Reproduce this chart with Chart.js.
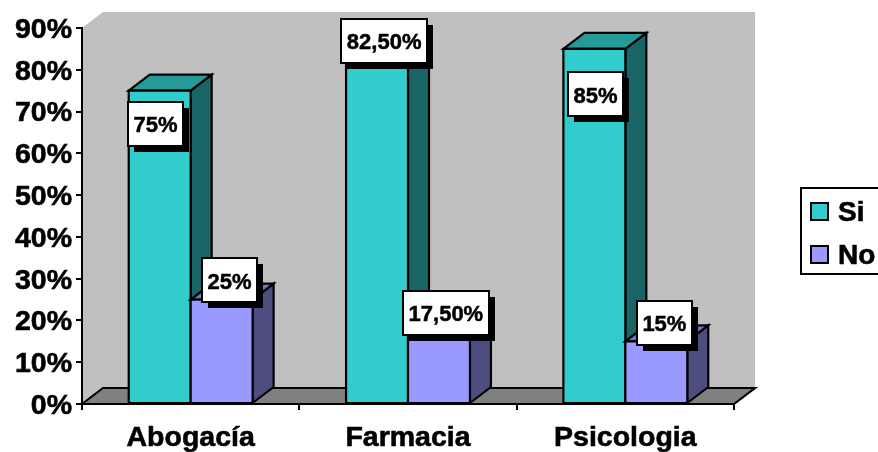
<!DOCTYPE html>
<html lang="es">
<head>
<meta charset="utf-8">
<title>Abogacía, Farmacia, Psicologia</title>
<script src="https://cdn.jsdelivr.net/npm/chart.js@4/dist/chart.umd.min.js"></script>
<style>
  html, body { margin: 0; padding: 0; background: #fff; }
  canvas { display: block; }
</style>
</head>
<body>
<canvas id="chart" width="878" height="452"></canvas>
<script>
// Chart data
const categories = ['Abogacía', 'Farmacia', 'Psicologia'];
const siValues = [75, 82.5, 85];
const noValues = [25, 17.5, 15];
const siLabels = ['75%', '82,50%', '85%'];
const noLabels = ['25%', '17,50%', '15%'];
const yTicks = [0, 10, 20, 30, 40, 50, 60, 70, 80, 90];

// Extrusion of the fake 3D box, in pixels
const DEPTH_X = 21;
const DEPTH_Y = 16;
const FONT = '"Liberation Sans", Arial, sans-serif';

// Hand placement of each value label, relative to the top centre of its bar
const labelNudge = [
  [[-4.1, 33.3], [7.1, -18.8], [1.2, 45.6]],
  [[7.8, -19.1], [6.9, -17.9], [8.1, -18.3]]
];
const labelTexts = [siLabels, noLabels];

const faceColors = [
  { top: '#269999', side: '#1A6666' },
  { top: '#7373BF', side: '#4D4D80' }
];

function polygon(ctx, pts, fill, stroke) {
  ctx.beginPath();
  pts.forEach((p, i) => (i ? ctx.lineTo(p[0], p[1]) : ctx.moveTo(p[0], p[1])));
  ctx.closePath();
  if (fill) { ctx.fillStyle = fill; ctx.fill(); }
  if (stroke) { ctx.strokeStyle = '#000'; ctx.lineWidth = 2.2; ctx.lineJoin = 'miter'; ctx.stroke(); }
}

function barEdges(bar) {
  return {
    l: bar.x - bar.width / 2,
    r: bar.x + bar.width / 2,
    t: bar.y,
    b: bar.base
  };
}

function drawDepthFaces(chart, index) {
  const { ctx } = chart;
  const colors = faceColors[index];
  ctx.save();
  chart.getDatasetMeta(index).data.forEach(bar => {
    const { l, r, t, b } = barEdges(bar);
    polygon(ctx, [[r, b], [r + DEPTH_X, b - DEPTH_Y], [r + DEPTH_X, t - DEPTH_Y], [r, t]], colors.side, true);
    polygon(ctx, [[l, t], [l + DEPTH_X, t - DEPTH_Y], [r + DEPTH_X, t - DEPTH_Y], [r, t]], colors.top, true);
  });
  ctx.restore();
}

function drawFrontOutlines(chart, index) {
  const { ctx } = chart;
  ctx.save();
  chart.getDatasetMeta(index).data.forEach(bar => {
    const { l, r, t, b } = barEdges(bar);
    polygon(ctx, [[l, t], [r, t], [r, b], [l, b]], null, true);
  });
  ctx.restore();
}

const box3d = {
  id: 'box3d',
  beforeDraw(chart) {
    const { ctx, chartArea: a } = chart;
    // Nudge the axis labels down so they sit level with their tick marks
    if (chart.scales.y._labelItems !== box3d.shifted) {
      const items = chart.scales.y.getLabelItems();
      items.forEach(item => { item.options.translation[1] += 2; });
      box3d.shifted = items;
    }
    // Back wall and floor of the plot
    ctx.save();
    polygon(ctx, [
      [a.left, a.top], [a.left + DEPTH_X, a.top - DEPTH_Y],
      [a.right + DEPTH_X, a.top - DEPTH_Y], [a.right + DEPTH_X, a.bottom - DEPTH_Y],
      [a.left + DEPTH_X, a.bottom - DEPTH_Y], [a.left, a.bottom]
    ], '#C0C0C0', false);
    polygon(ctx, [
      [a.left, a.bottom], [a.left + DEPTH_X, a.bottom - DEPTH_Y],
      [a.right + DEPTH_X, a.bottom - DEPTH_Y], [a.right, a.bottom]
    ], '#808080', true);
    ctx.restore();
  },
  // Paint left to right so each series' front face covers its neighbour's side
  beforeDatasetsDraw(chart) {
    chart.data.datasets.forEach((ds, i) => {
      drawDepthFaces(chart, i);
      chart.getDatasetMeta(i).controller.draw();
      drawFrontOutlines(chart, i);
    });
    return false;
  },
  afterDraw(chart) {
    const { ctx } = chart;
    ctx.save();
    // Value labels: white box with a hard black drop shadow
    ctx.font = 'bold 22px ' + FONT;
    ctx.textAlign = 'center';
    ctx.textBaseline = 'middle';
    labelTexts.forEach((texts, ds) => {
      chart.getDatasetMeta(ds).data.forEach((bar, i) => {
        const cx = bar.x + labelNudge[ds][i][0];
        const cy = bar.y + labelNudge[ds][i][1];
        const w = Math.round(ctx.measureText(texts[i]).width) + 11;
        const h = 44;
        const x = Math.round(cx - w / 2);
        const y = Math.round(cy - h / 2);
        ctx.fillStyle = '#000';
        ctx.fillRect(x + 6, y + 6, w, h);
        ctx.fillStyle = '#fff';
        ctx.fillRect(x, y, w, h);
        ctx.strokeStyle = '#000';
        ctx.lineWidth = 2;
        ctx.strokeRect(x, y, w, h);
        ctx.fillStyle = '#000';
        ctx.lineWidth = 0.5;
        ctx.strokeText(texts[i], cx, cy + 2);
        ctx.fillText(texts[i], cx, cy + 2);
      });
    });
    // Legend box, running off the right edge of the page
    ctx.strokeStyle = '#000';
    ctx.lineWidth = 2;
    ctx.fillStyle = '#fff';
    ctx.fillRect(801, 188, 90, 86);
    ctx.strokeRect(801, 188, 90, 86);
    ctx.font = 'bold 28px ' + FONT;
    ctx.textAlign = 'left';
    chart.data.datasets.forEach((ds, i) => {
      const y = 203 + i * 43;
      ctx.lineWidth = 2;
      ctx.fillStyle = ds.backgroundColor;
      ctx.fillRect(811, y, 17, 17);
      ctx.strokeRect(811, y, 17, 17);
      ctx.fillStyle = '#000';
      ctx.lineWidth = 0.6;
      ctx.strokeText(ds.label, 838, y + 10);
      ctx.fillText(ds.label, 838, y + 10);
    });
    ctx.restore();
  }
};

new Chart(document.getElementById('chart'), {
  type: 'bar',
  data: {
    labels: categories,
    datasets: [
      { label: 'Si', data: siValues, backgroundColor: '#33CCCC', borderColor: '#33CCCC', borderWidth: 0, borderSkipped: false },
      { label: 'No', data: noValues, backgroundColor: '#9999FF', borderColor: '#9999FF', borderWidth: 0, borderSkipped: false }
    ]
  },
  options: {
    responsive: false,
    animation: false,
    layout: { padding: { left: 0, top: 28, right: 144, bottom: 0 } },
    datasets: { bar: { categoryPercentage: 0.57, barPercentage: 1 } },
    plugins: { legend: { display: false }, tooltip: { enabled: false } },
    scales: {
      x: {
        grid: { drawOnChartArea: false, drawTicks: true, tickLength: 6, color: '#000', lineWidth: 2 },
        border: { color: '#000', width: 2 },
        ticks: {
          color: '#000',
          font: { family: FONT, size: 28.5, weight: 'bold' },
          textStrokeColor: '#000',
          textStrokeWidth: 0.6,
          padding: 11,
          maxRotation: 0
        },
        afterFit(scale) { scale.height = 48; }
      },
      y: {
        min: yTicks[0],
        max: yTicks[yTicks.length - 1],
        afterBuildTicks(scale) { scale.ticks = yTicks.map(value => ({ value })); },
        grid: { drawOnChartArea: false, drawTicks: true, tickLength: 6, color: '#000', lineWidth: 2 },
        border: { color: '#000', width: 2 },
        ticks: {
          color: '#000',
          font: { family: FONT, size: 28.5, weight: 'bold' },
          textStrokeColor: '#000',
          textStrokeWidth: 0.6,
          padding: 4,
          callback: v => v + '%'
        },
        afterFit(scale) { scale.width = 82; }
      }
    }
  },
  plugins: [box3d]
});
</script>
</body>
</html>
